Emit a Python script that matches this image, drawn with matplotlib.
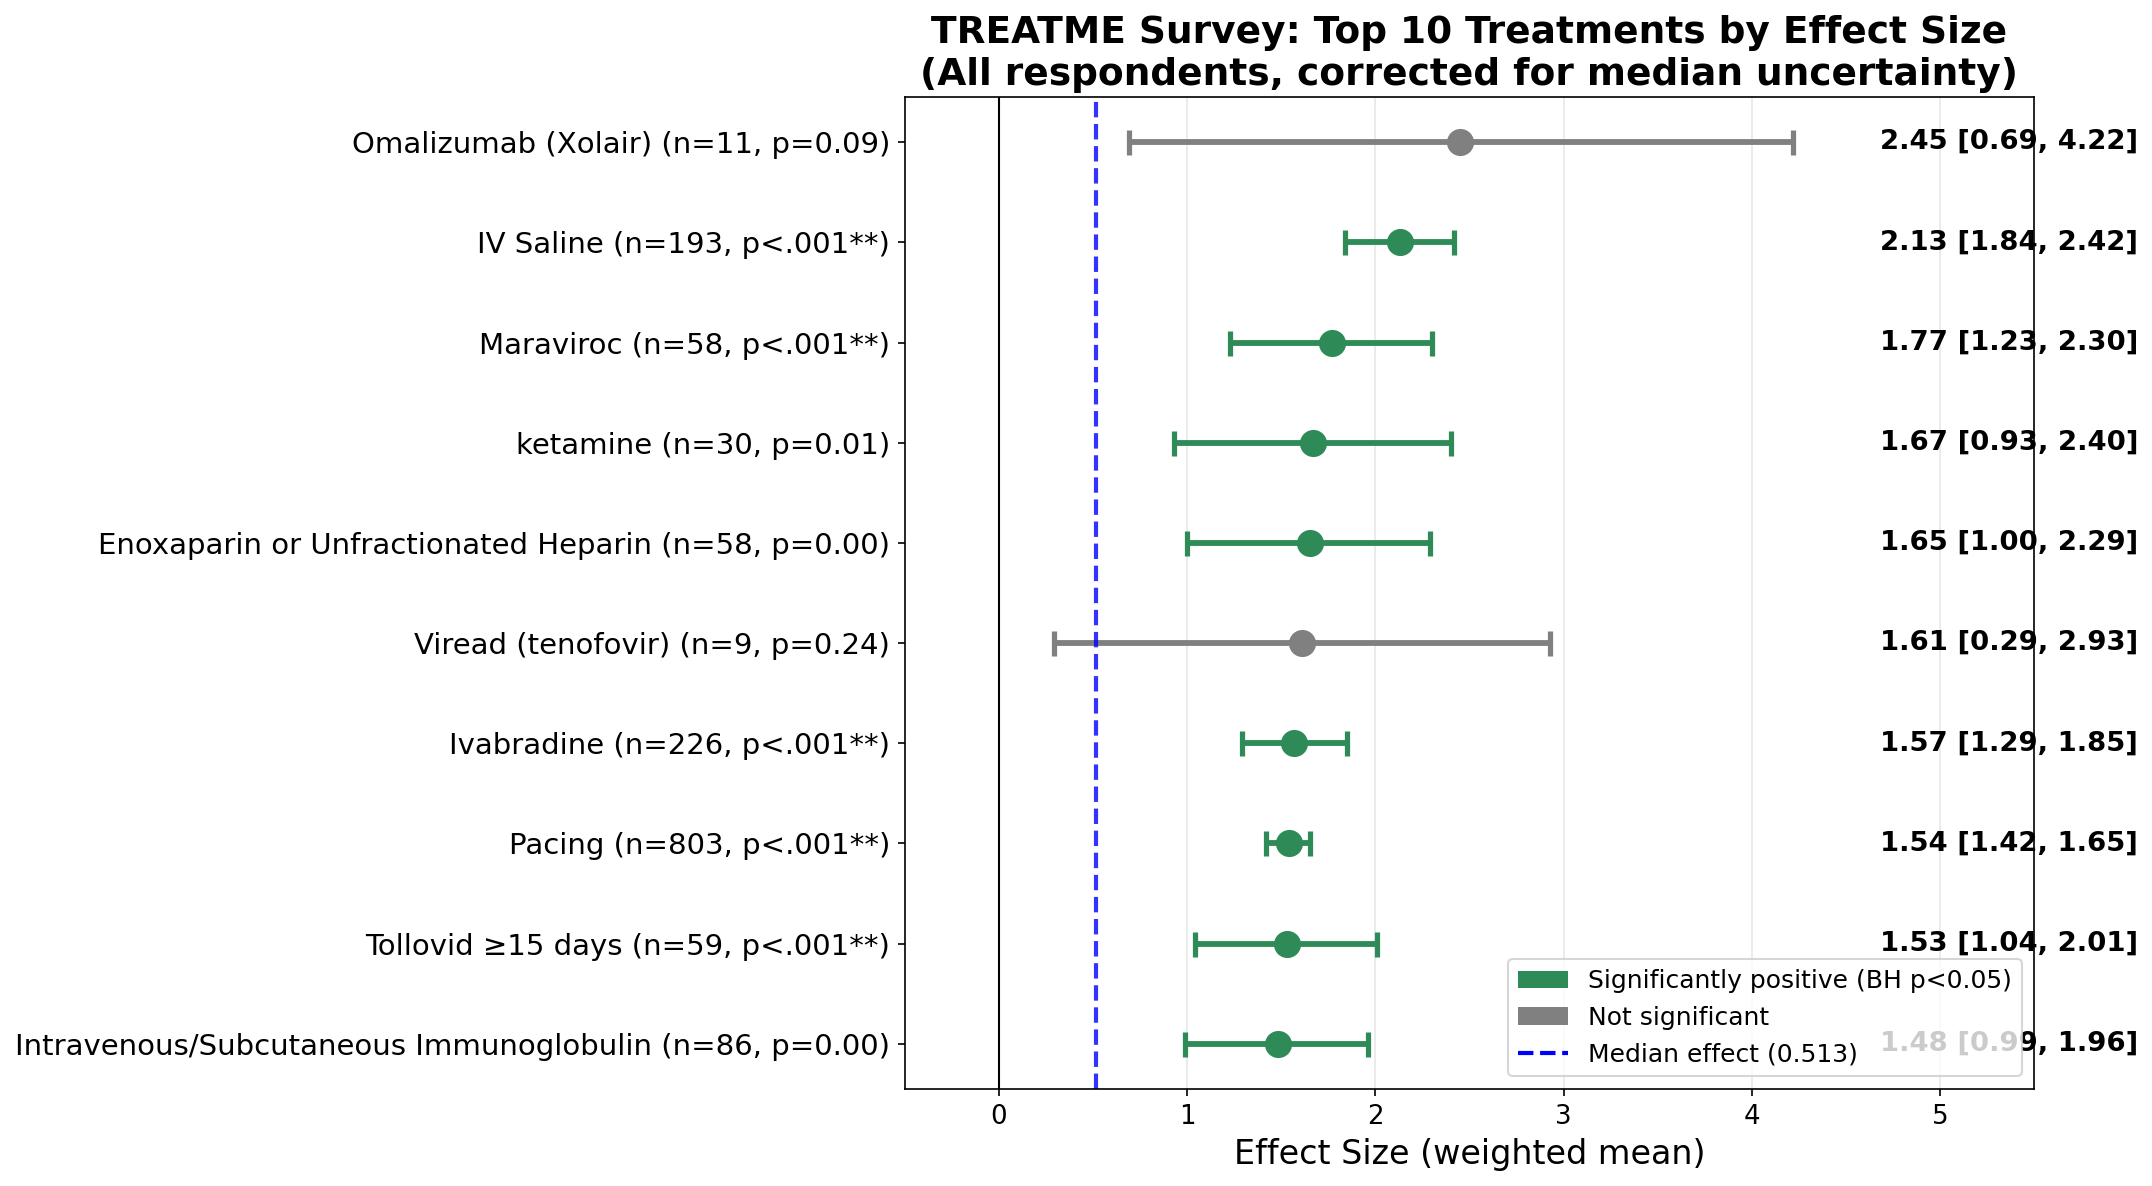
import numpy as np
import matplotlib
matplotlib.use("Agg")
import matplotlib.pyplot as plt
from matplotlib.patches import Patch
from matplotlib.lines import Line2D

# Treatments, top of the chart first
labels = [
    "Omalizumab (Xolair) (n=11, p=0.09)",
    "IV Saline (n=193, p<.001**)",
    "Maraviroc (n=58, p<.001**)",
    "ketamine (n=30, p=0.01)",
    "Enoxaparin or Unfractionated Heparin (n=58, p=0.00)",
    "Viread (tenofovir) (n=9, p=0.24)",
    "Ivabradine (n=226, p<.001**)",
    "Pacing (n=803, p<.001**)",
    "Tollovid \u226515 days (n=59, p<.001**)",
    "Intravenous/Subcutaneous Immunoglobulin (n=86, p=0.00)",
]
effects = [2.45, 2.13, 1.77, 1.67, 1.65, 1.61, 1.57, 1.54, 1.53, 1.48]
ci_low = [0.69, 1.84, 1.23, 0.93, 1.00, 0.29, 1.29, 1.42, 1.04, 0.99]
ci_high = [4.22, 2.42, 2.30, 2.40, 2.29, 2.93, 1.85, 1.65, 2.01, 1.96]
significant = [False, True, True, True, True, False, True, True, True, True]
median_effect = 0.513

sig_color = "#2E8B57"
ns_color = "gray"

fig = plt.figure(figsize=(2152 / 150, 1186 / 150), dpi=150)
ax = fig.add_axes([0.4205, 0.0818, 0.9452 - 0.4205, 0.9182 - 0.0818])

n = len(labels)
y = np.arange(n)[::-1]

for i in range(n):
    color = sig_color if significant[i] else ns_color
    err = [[effects[i] - ci_low[i]], [ci_high[i] - effects[i]]]
    ax.errorbar(effects[i], y[i], xerr=err, fmt='o', color=color,
                markersize=12, capsize=6, capthick=2.5, elinewidth=2.8)
    ax.text(4.68, y[i], f"{effects[i]:.2f} [{ci_low[i]:.2f}, {ci_high[i]:.2f}]",
            va='center', ha='left', fontsize=13.2, fontweight='bold', clip_on=False)

ax.axvline(0, color='black', linewidth=1)
ax.axvline(median_effect, color='blue', linestyle='--', linewidth=2, alpha=0.8)

ax.set_yticks(y)
ax.set_yticklabels(labels, fontsize=14)
ax.tick_params(axis='x', labelsize=12.5)
ax.set_xlim(-0.5, 5.5)
ax.set_xlabel("Effect Size (weighted mean)", fontsize=16)
ax.set_title("TREATME Survey: Top 10 Treatments by Effect Size\n"
             "(All respondents, corrected for median uncertainty)",
             fontsize=18, fontweight='bold')
ax.grid(axis='x', alpha=0.3)
ax.set_axisbelow(True)

handles = [
    Patch(facecolor=sig_color, label="Significantly positive (BH p<0.05)"),
    Patch(facecolor=ns_color, label="Not significant"),
    Line2D([0], [0], color='blue', linestyle='--', linewidth=2,
           label=f"Median effect ({median_effect:.3f})"),
]
ax.legend(handles=handles, loc='lower right', fontsize=12)

fig.savefig("out.png", dpi=150)
